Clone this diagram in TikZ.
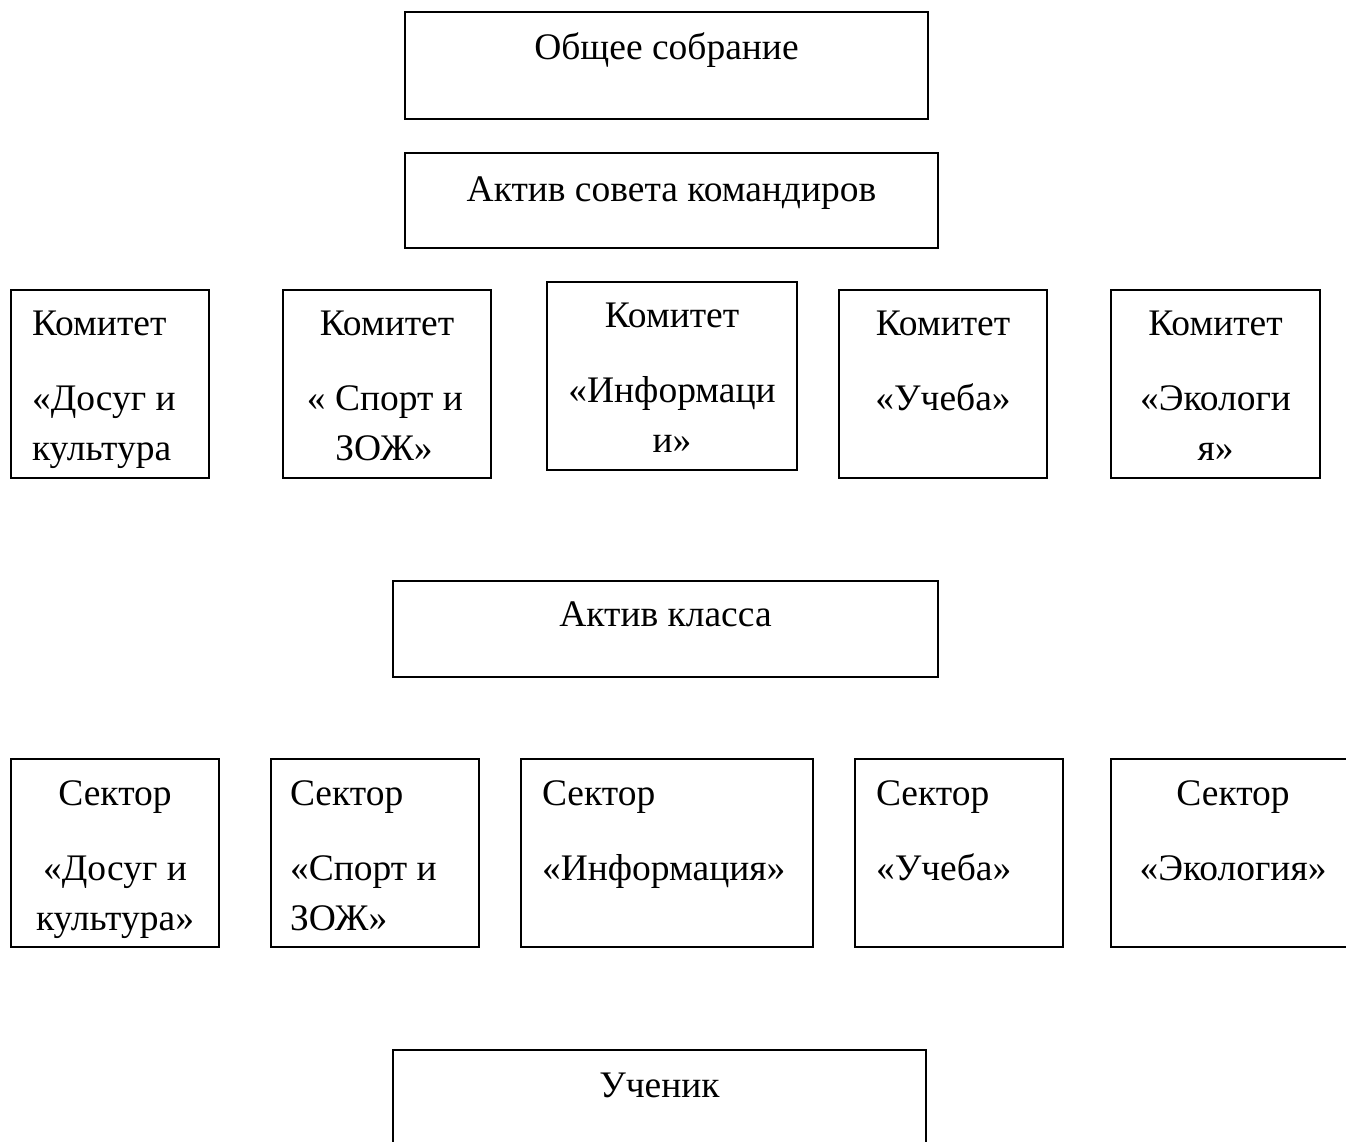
\documentclass[tikz,border=0pt]{standalone}
\usepackage{fontspec}
\setmainfont{Liberation Serif}
\begin{document}
\begin{tikzpicture}[x=1pt,y=-1pt,
  box/.style={draw=black,line width=1.6pt,inner sep=0pt,outer sep=0pt},
  txt/.style={inner sep=0pt,outer sep=0pt,font=\fontsize{37.5}{45}\selectfont,anchor=base},
  ltxt/.style={txt,anchor=base west}]
\useasboundingbox (0,0) rectangle (1346,1142);
% top boxes
\draw[box] (405,12) rectangle (928,119);
\node[txt] (t1) at (666.5,60) {Общее собрание};
\draw[box] (405,153) rectangle (938,248);
\node[txt] (t2) at (671.5,201) {Актив совета командиров};
% committees
\draw[box] (11,290) rectangle (209,478);
\node[ltxt] (k1a) at (32,335) {Комитет};
\node[ltxt] (k1b) at (32,410) {«Досуг и};
\node[ltxt] (k1c) at (32,460) {культура};
\draw[box] (283,290) rectangle (491,478);
\node[txt] (k2a) at (387,335) {Комитет};
\node[txt] (k2b) at (385,410) {« Спорт и};
\node[txt] (k2c) at (384,460) {ЗОЖ»};
\draw[box] (547,282) rectangle (797,470);
\node[txt] (k3a) at (672,327) {Комитет};
\node[txt] (k3b) at (672,402) {«Информаци};
\node[txt] (k3c) at (672,452) {и»};
\draw[box] (839,290) rectangle (1047,478);
\node[txt] (k4a) at (943,335) {Комитет};
\node[txt] (k4b) at (943,410) {«Учеба»};
\draw[box] (1111,290) rectangle (1320,478);
\node[txt] (k5a) at (1215.5,335) {Комитет};
\node[txt] (k5b) at (1215.5,410) {«Экологи};
\node[txt] (k5c) at (1215.5,460) {я»};
% class
\draw[box] (393,581) rectangle (938,677);
\node[txt] (t3) at (665.5,626) {Актив класса};
% sectors
\draw[box] (11,759) rectangle (219,947);
\node[txt] (s1a) at (115,805) {Сектор};
\node[txt] (s1b) at (115,880) {«Досуг и};
\node[txt] (s1c) at (115,930) {культура»};
\draw[box] (271,759) rectangle (479,947);
\node[ltxt] (s2a) at (290,805) {Сектор};
\node[ltxt] (s2b) at (290,880) {«Спорт и};
\node[ltxt] (s2c) at (290,930) {ЗОЖ»};
\draw[box] (521,759) rectangle (813,947);
\node[ltxt] (s3a) at (542,805) {Сектор};
\node[ltxt] (s3b) at (542,880) {«Информация»};
\draw[box] (855,759) rectangle (1063,947);
\node[ltxt] (s4a) at (876,805) {Сектор};
\node[ltxt] (s4b) at (876,880) {«Учеба»};
\draw[box] (1111,759) rectangle (1356,947);
\node[txt] (s5a) at (1233,805) {Сектор};
\node[txt] (s5b) at (1233,880) {«Экология»};
% pupil
\draw[box] (393,1050) rectangle (926,1160);
\node[txt] (t4) at (659.5,1097) {Ученик};
\end{tikzpicture}
\end{document}
